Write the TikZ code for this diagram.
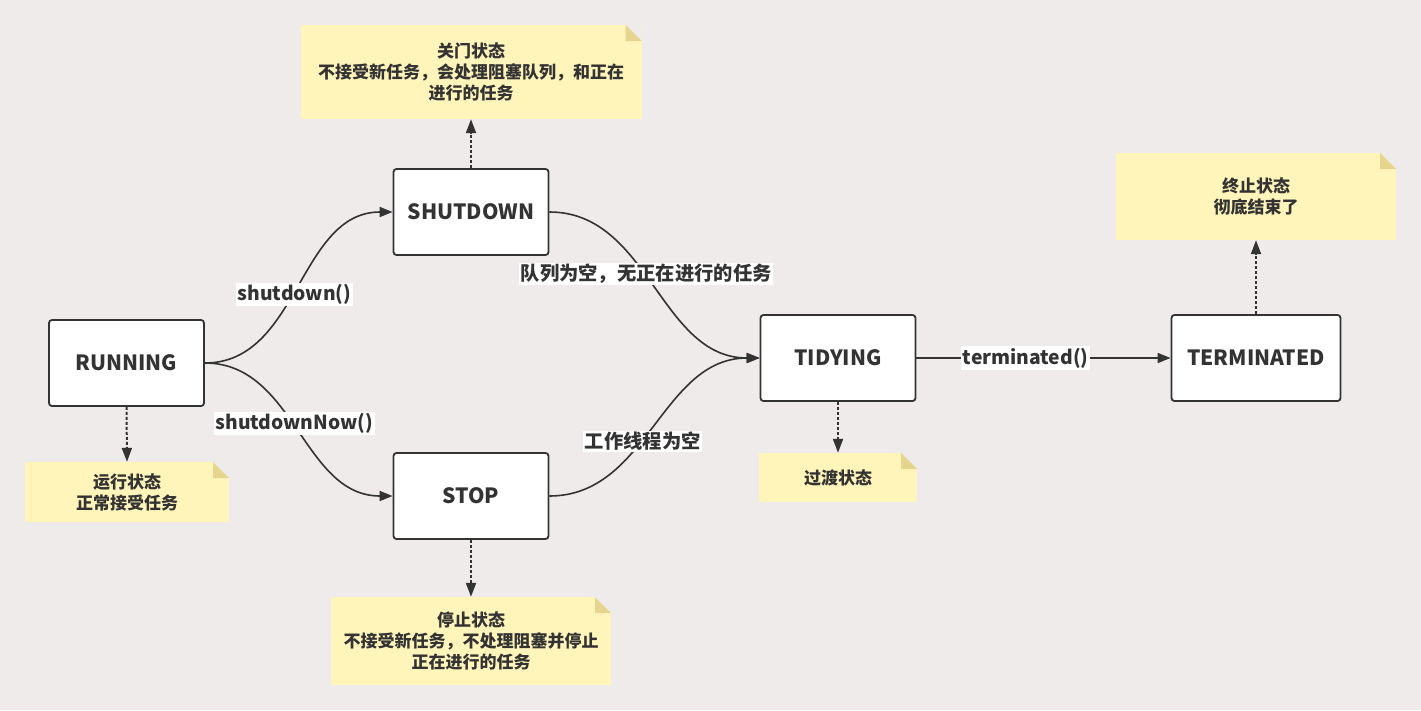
\documentclass[tikz,border=0pt]{standalone}
\usepackage{fontspec}
\setmainfont{Noto Sans CJK SC}
\usetikzlibrary{arrows.meta}
\definecolor{paper}{RGB}{239,235,234}
\definecolor{ink}{RGB}{51,51,51}
\definecolor{notefill}{RGB}{255,245,187}
\definecolor{notefold}{RGB}{230,213,142}

\begin{document}
\begin{tikzpicture}[x=1pt, y=-1pt,
    state/.style={draw=ink, line width=1.8pt, fill=white, rounded corners=3pt,
                  minimum width=155pt, minimum height=86pt, text=ink,
                  font=\bfseries\fontsize{21}{25}\selectfont},
    note/.style={fill=notefill, text=ink, align=center,
                 font=\bfseries\fontsize{17}{21}\selectfont,
                 path picture={
                     \fill[paper]    ([xshift=-16pt]path picture bounding box.north east) -- (path picture bounding box.north east)
                                  -- ([yshift=-16pt]path picture bounding box.north east) -- cycle;
                     \fill[notefold] ([xshift=-16pt]path picture bounding box.north east) -- ([xshift=-16pt,yshift=-16pt]path picture bounding box.north east)
                                  -- ([yshift=-16pt]path picture bounding box.north east) -- cycle;}},
    flow/.style={draw=ink, line width=1.6pt, -{Triangle[length=13pt,width=10pt]}},
    hint/.style={draw=ink, line width=2pt, dash pattern=on 3pt off 2pt, -{Triangle[length=14pt,width=10pt]}},
    lbl/.style={fill=white, text=ink, inner sep=1.5pt, font=\bfseries\fontsize{19.3}{19.3}\selectfont}]
    \path[use as bounding box, fill=paper] (0,0) rectangle (1421,710);

    \node[state]                      (running)    at ( 126.5, 363.0) {RUNNING};
    \node[state]                      (shutdown)   at ( 471.0, 212.0) {SHUTDOWN};
    \node[state]                      (stop)       at ( 471.0, 496.0) {STOP};
    \node[state]                      (tidying)    at ( 838.0, 358.0) {TIDYING};
    \node[state, minimum width=169pt] (terminated) at (1256.0, 358.0) {TERMINATED};

    \node[note, minimum width=204pt, minimum height=60pt] (runnote)  at ( 127.0, 492.0) {运行状态\\正常接受任务};
    \node[note, minimum width=341pt, minimum height=94pt] (shutnote) at ( 471.0,  72.0) {关门状态\\不接受新任务，会处理阻塞队列，和正在\\进行的任务};
    \node[note, minimum width=280pt, minimum height=88pt] (stopnote) at ( 471.0, 641.0) {停止状态\\不接受新任务，不处理阻塞并停止\\正在进行的任务};
    \node[note, minimum width=158pt, minimum height=49pt] (tidynote) at ( 838.0, 477.5) {过渡状态};
    \node[note, minimum width=280pt, minimum height=87pt] (termnote) at (1256.0, 196.5) {终止状态\\彻底结束了};

    \draw[flow] (running.east)  to[out=0, in=180] node[lbl, pos=0.47] {shutdown()}               (shutdown.west);
    \draw[flow] (running.east)  to[out=0, in=180] node[lbl, pos=0.47] {shutdownNow()}            (stop.west);
    \draw[flow] (shutdown.east) to[out=0, in=180] node[lbl, pos=0.45] {队列为空，无正在进行的任务} (tidying.west);
    \draw[flow] (stop.east)     to[out=0, in=180] node[lbl, pos=0.43] {工作线程为空}             (tidying.west);
    \draw[flow] (tidying.east)  -- node[lbl, pos=0.43] {terminated()} (terminated.west);

    \draw[hint] (running.south)    -- (runnote.north);
    \draw[hint] (shutdown.north)   -- (shutnote.south);
    \draw[hint] (stop.south)       -- (stopnote.north);
    \draw[hint] (tidying.south)    -- (tidynote.north);
    \draw[hint] (terminated.north) -- (termnote.south);
\end{tikzpicture}
\end{document}
